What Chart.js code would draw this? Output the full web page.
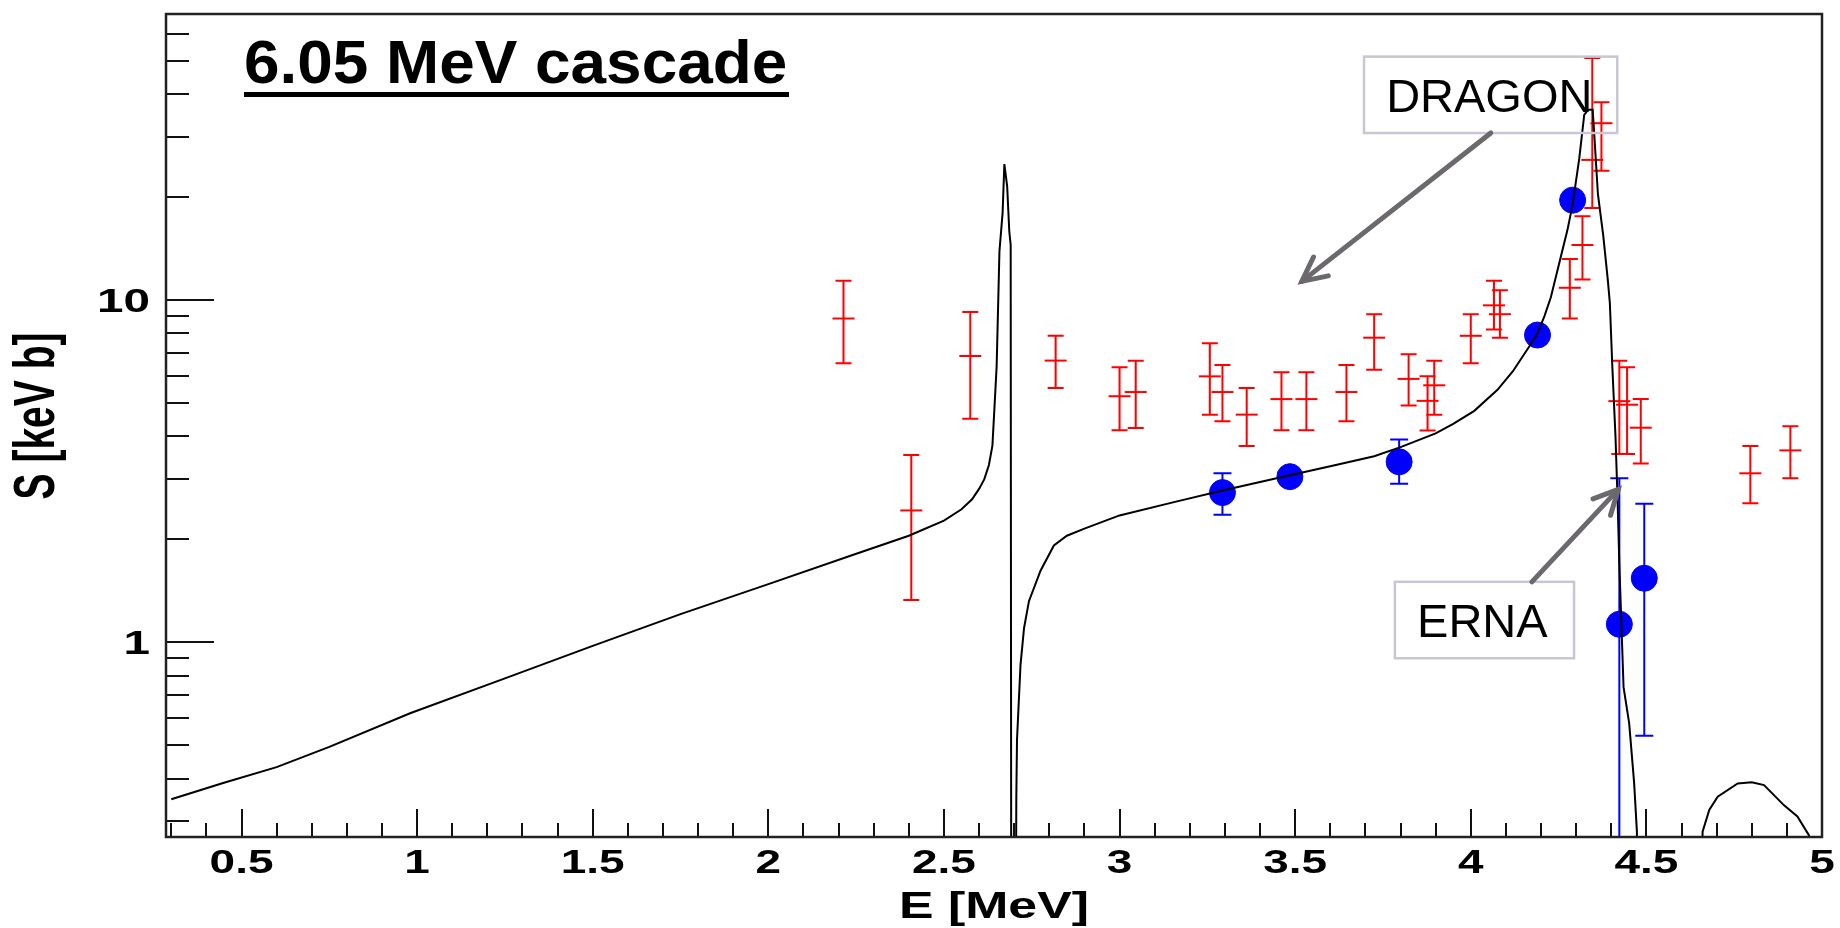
<!DOCTYPE html>
<html>
<head>
<meta charset="utf-8">
<script src="https://cdn.jsdelivr.net/npm/chart.js@4/dist/chart.umd.min.js"></script>
<style>
  html, body { margin: 0; padding: 0; background: #fff; }
  #wrap { width: 1840px; height: 928px; position: relative; }
</style>
</head>
<body>
<div id="wrap"><canvas id="cv"></canvas></div>
<script>
// R-matrix curve (0.05 = below the frame)
var curveE = [0.300, 0.450, 0.600, 0.750, 0.980, 1.250, 1.500, 1.750, 2.000, 2.240,
              2.400, 2.500, 2.550, 2.580, 2.600, 2.615, 2.628, 2.638, 2.643, 2.650,
              2.658, 2.667, 2.672, 2.680, 2.686, 2.690, 2.692, 2.703, 2.706, 2.708,
              2.718, 2.728, 2.742, 2.775, 2.813, 2.850, 2.900, 3.000, 3.155, 3.293,
              3.485, 3.600, 3.725, 3.800, 3.900, 3.950, 4.010, 4.076, 4.120, 4.166,
              4.190, 4.210, 4.228, 4.256, 4.275, 4.290, 4.309, 4.323, 4.334, 4.347,
              4.352, 4.362, 4.377, 4.390, 4.396, 4.403, 4.412, 4.418, 4.423, 4.435,
              4.451, 4.465, 4.473, 4.476, 4.652, 4.660, 4.679, 4.703, 4.760, 4.800,
              4.835, 4.892, 4.930, 4.963, 4.975];
var curveS = [0.348, 0.389, 0.432, 0.495, 0.621, 0.785, 0.977, 1.21, 1.48, 1.80,
              2.05, 2.27, 2.45, 2.62, 2.81, 3.0, 3.3, 3.76, 4.68, 6.4,
              13.9, 18, 25.0, 21.5, 15.9, 14.5, 0.05, 0.05, 0.35, 0.52,
              0.86, 1.10, 1.32, 1.62, 1.92, 2.05, 2.15, 2.35, 2.57, 2.78,
              3.08, 3.27, 3.50, 3.72, 4.08, 4.35, 4.75, 5.47, 6.2, 7.31,
              8.0, 9.0, 10.2, 13.35, 16.0, 19.05, 26.0, 34.8, 36.0, 36.0,
              30.0, 20.4, 15.5, 11.5, 9.8, 6.4, 4.0, 2.6, 1.69, 0.74,
              0.58, 0.39, 0.28, 0.05, 0.05, 0.28, 0.324, 0.354, 0.387, 0.39,
              0.383, 0.334, 0.31, 0.273, 0.2];

// DRAGON (red)
var dragonE  = [2.214, 2.407, 2.575, 2.818, 3.000, 3.046, 3.257, 3.293, 3.362, 3.461,
                3.532, 3.646, 3.725, 3.823, 3.877, 3.896, 4.000, 4.066, 4.083, 4.282,
                4.318, 4.346, 4.372, 4.423, 4.445, 4.484, 4.796, 4.910];
var dragonS  = [8.84, 2.43, 6.87, 6.66, 5.24, 5.39, 5.99, 5.39, 4.63, 5.14,
                5.14, 5.39, 7.77, 5.89, 5.08, 5.64, 7.87, 9.66, 9.10, 10.87,
                14.5, 25.7, 32.9, 5.07, 4.95, 4.24, 3.12, 3.64];
var dragonLo = [6.54, 1.33, 4.50, 5.54, 4.17, 4.23, 4.63, 4.43, 3.75, 4.17,
                4.17, 4.43, 6.26, 4.92, 4.16, 4.63, 6.54, 8.21, 7.77, 8.84,
                11.5, 18.6, 23.9, 3.55, 3.55, 3.33, 2.55, 3.02];
var dragonHi = [11.4, 3.53, 9.24, 7.87, 6.37, 6.65, 7.48, 6.47, 5.54, 6.16,
                6.16, 6.47, 9.10, 6.95, 5.99, 6.65, 9.10, 11.4, 10.7, 13.2,
                17.6, 51.0, 37.9, 6.65, 6.37, 5.14, 3.75, 4.28];

// ERNA (blue)
var ernaE  = [3.293, 3.485, 3.796, 4.190, 4.290, 4.423, 4.494];
var ernaS  = [2.74, 3.05, 3.37, 7.91, 19.6, 1.13, 1.54];
var ernaLo = [2.36, 2.96, 2.91, 7.75, 19.3, 0.1, 0.534];
var ernaHi = [3.12, 3.14, 3.92, 8.05, 19.9, 3.02, 2.54];

// axes
var xTickVals = [0.5, 1, 1.5, 2, 2.5, 3, 3.5, 4, 4.5, 5];
var xTickText = ["0.5", "1", "1.5", "2", "2.5", "3", "3.5", "4", "4.5", "5"];
var yTickVals = [1, 10];
var yTickText = ["1", "10"];
var yMinorVals = [0.3, 0.4, 0.5, 0.6, 0.7, 0.8, 0.9, 2, 3, 4, 5, 6, 7, 8, 9, 20, 30, 40, 50, 60];

// annotation boxes / arrows in data units
var notes = [
  { text: "DRAGON", box: [3.696, 51.5, 4.417, 30.8], at: [3.759, 35.4], from: [4.057, 30.8], to: [3.519, 11.35] },
  { text: "ERNA", box: [3.784, 1.503, 4.294, 0.899], at: [3.847, 1.034], from: [4.174, 1.503], to: [4.420, 2.80] }
];

var FONT = '"Liberation Sans", Arial, sans-serif';

function drawText(ctx, txt, x, y, font, sx, align, base) {
  ctx.save();
  ctx.translate(x, y);
  ctx.scale(sx, 1);
  ctx.font = font;
  ctx.textAlign = align;
  ctx.textBaseline = base;
  ctx.fillStyle = '#000';
  ctx.fillText(txt, 0, 0);
  ctx.restore();
}

function drawBars(ctx, xs, ys, E, lo, hi, color, cap) {
  ctx.strokeStyle = color;
  ctx.lineWidth = 2;
  for (var i = 0; i < E.length; i++) {
    var x = xs.getPixelForValue(E[i]);
    var y0 = ys.getPixelForValue(hi[i]);
    var y1 = ys.getPixelForValue(lo[i]);
    ctx.beginPath();
    ctx.moveTo(x, y0); ctx.lineTo(x, y1);
    ctx.moveTo(x - cap, y0); ctx.lineTo(x + cap, y0);
    ctx.moveTo(x - cap, y1); ctx.lineTo(x + cap, y1);
    ctx.stroke();
  }
}

function drawArrow(ctx, x0, y0, x1, y1) {
  var a = Math.atan2(y0 - y1, x0 - x1);
  var len = 27, spread = 0.46;
  ctx.beginPath();
  ctx.moveTo(x0, y0);
  ctx.lineTo(x1, y1);
  ctx.stroke();
  ctx.beginPath();
  ctx.moveTo(x1 + len * Math.cos(a - spread), y1 + len * Math.sin(a - spread));
  ctx.lineTo(x1, y1);
  ctx.lineTo(x1 + len * Math.cos(a + spread), y1 + len * Math.sin(a + spread));
  ctx.stroke();
}

var errorBarPlugin = {
  id: 'errbars',
  beforeDatasetsDraw: function(chart) {
    var ctx = chart.ctx, a = chart.chartArea;
    ctx.save();
    ctx.beginPath();
    ctx.rect(a.left, a.top, a.right - a.left, a.bottom - a.top);
    ctx.clip();
    drawBars(ctx, chart.scales.x, chart.scales.y, dragonE, dragonLo, dragonHi, '#ff0000', 8);
    drawBars(ctx, chart.scales.x, chart.scales.y, ernaE, ernaLo, ernaHi, '#0000ff', 9);
    ctx.restore();
  }
};

// ROOT style frame with inward ticks
var axesPlugin = {
  id: 'rootaxes',
  afterDatasetsDraw: function(chart) {
    var ctx = chart.ctx, a = chart.chartArea;
    var xs = chart.scales.x, ys = chart.scales.y;
    var i, p;
    ctx.save();
    ctx.strokeStyle = '#111';
    ctx.lineWidth = 2;
    ctx.beginPath();
    for (i = 3; i <= 50; i++) {
      p = Math.round(xs.getPixelForValue(i / 10));
      ctx.moveTo(p, a.bottom);
      ctx.lineTo(p, a.bottom - (i % 5 === 0 ? 28 : 14));
    }
    for (i = 0; i < yMinorVals.length; i++) {
      p = Math.round(ys.getPixelForValue(yMinorVals[i]));
      ctx.moveTo(a.left, p); ctx.lineTo(a.left + 23, p);
    }
    for (i = 0; i < yTickVals.length; i++) {
      p = Math.round(ys.getPixelForValue(yTickVals[i]));
      ctx.moveTo(a.left, p); ctx.lineTo(a.left + 48, p);
    }
    ctx.stroke();
    ctx.strokeStyle = '#222';
    ctx.lineWidth = 2.5;
    ctx.strokeRect(a.left, a.top, a.right - a.left, a.bottom - a.top);

    for (i = 0; i < xTickVals.length; i++) {
      drawText(ctx, xTickText[i], xs.getPixelForValue(xTickVals[i]), 873, 'bold 34px ' + FONT, 1.35, 'center', 'alphabetic');
    }
    for (i = 0; i < yTickVals.length; i++) {
      drawText(ctx, yTickText[i], 150, ys.getPixelForValue(yTickVals[i]) + 12, 'bold 34px ' + FONT, 1.4, 'right', 'alphabetic');
    }
    drawText(ctx, 'E [MeV]', (a.left + a.right) / 2, 918, 'bold 37px ' + FONT, 1.4, 'center', 'alphabetic');

    ctx.save();
    ctx.translate(38, 416);
    ctx.scale(1.45, 1);
    ctx.rotate(-Math.PI / 2);
    ctx.font = 'bold 39px ' + FONT;
    ctx.textAlign = 'center';
    ctx.textBaseline = 'middle';
    ctx.fillStyle = '#000';
    ctx.fillText('S [keV b]', 0, 0);
    ctx.restore();
    ctx.restore();
  }
};

var notesPlugin = {
  id: 'notes',
  afterDraw: function(chart) {
    var ctx = chart.ctx;
    var xs = chart.scales.x, ys = chart.scales.y;
    ctx.save();
    // slide title
    drawText(ctx, '6.05 MeV cascade', 244, 83, 'bold 62px ' + FONT, 1.03, 'left', 'alphabetic');
    ctx.fillStyle = '#000';
    ctx.fillRect(244, 92, 545, 5);

    for (var i = 0; i < notes.length; i++) {
      var n = notes[i];
      var bx0 = xs.getPixelForValue(n.box[0]), by0 = ys.getPixelForValue(n.box[1]);
      var bx1 = xs.getPixelForValue(n.box[2]), by1 = ys.getPixelForValue(n.box[3]);
      ctx.strokeStyle = '#c9c4d6';
      ctx.lineWidth = 2.5;
      ctx.strokeRect(bx0, by0, bx1 - bx0, by1 - by0);
      drawText(ctx, n.text, xs.getPixelForValue(n.at[0]), ys.getPixelForValue(n.at[1]), '47px ' + FONT, 1, 'left', 'alphabetic');
      ctx.strokeStyle = '#6b686e';
      ctx.lineWidth = 5;
      ctx.lineCap = 'round';
      ctx.lineJoin = 'miter';
      drawArrow(ctx, xs.getPixelForValue(n.from[0]), ys.getPixelForValue(n.from[1]),
                xs.getPixelForValue(n.to[0]), ys.getPixelForValue(n.to[1]));
    }
    ctx.restore();
  }
};

function pairs(xv, yv) {
  var out = [];
  for (var i = 0; i < xv.length; i++) out.push({ x: xv[i], y: yv[i] });
  return out;
}

new Chart(document.getElementById('cv'), {
  type: 'scatter',
  data: {
    datasets: [
      { label: 'R-matrix', data: pairs(curveE, curveS), showLine: true, borderColor: '#000',
        borderWidth: 2, pointRadius: 0, tension: 0, order: 0 },
      { label: 'ERNA', data: pairs(ernaE, ernaS), pointStyle: 'circle', pointRadius: 13,
        backgroundColor: '#0000ff', borderColor: '#0000ff', borderWidth: 1, order: 1 },
      { label: 'DRAGON', data: pairs(dragonE, dragonS), pointStyle: 'line', pointRadius: 11,
        borderColor: '#ff0000', borderWidth: 2, order: 2 }
    ]
  },
  options: {
    responsive: true,
    maintainAspectRatio: false,
    animation: false,
    events: [],
    layout: { padding: { left: 166, right: 18, top: 8, bottom: 91 } },
    plugins: { legend: { display: false }, tooltip: { enabled: false } },
    scales: {
      x: { type: 'linear', min: 0.285, max: 5.0, display: false },
      y: { type: 'logarithmic', min: 0.27, max: 68.6, display: false }
    }
  },
  plugins: [errorBarPlugin, axesPlugin, notesPlugin]
});
</script>
</body>
</html>
